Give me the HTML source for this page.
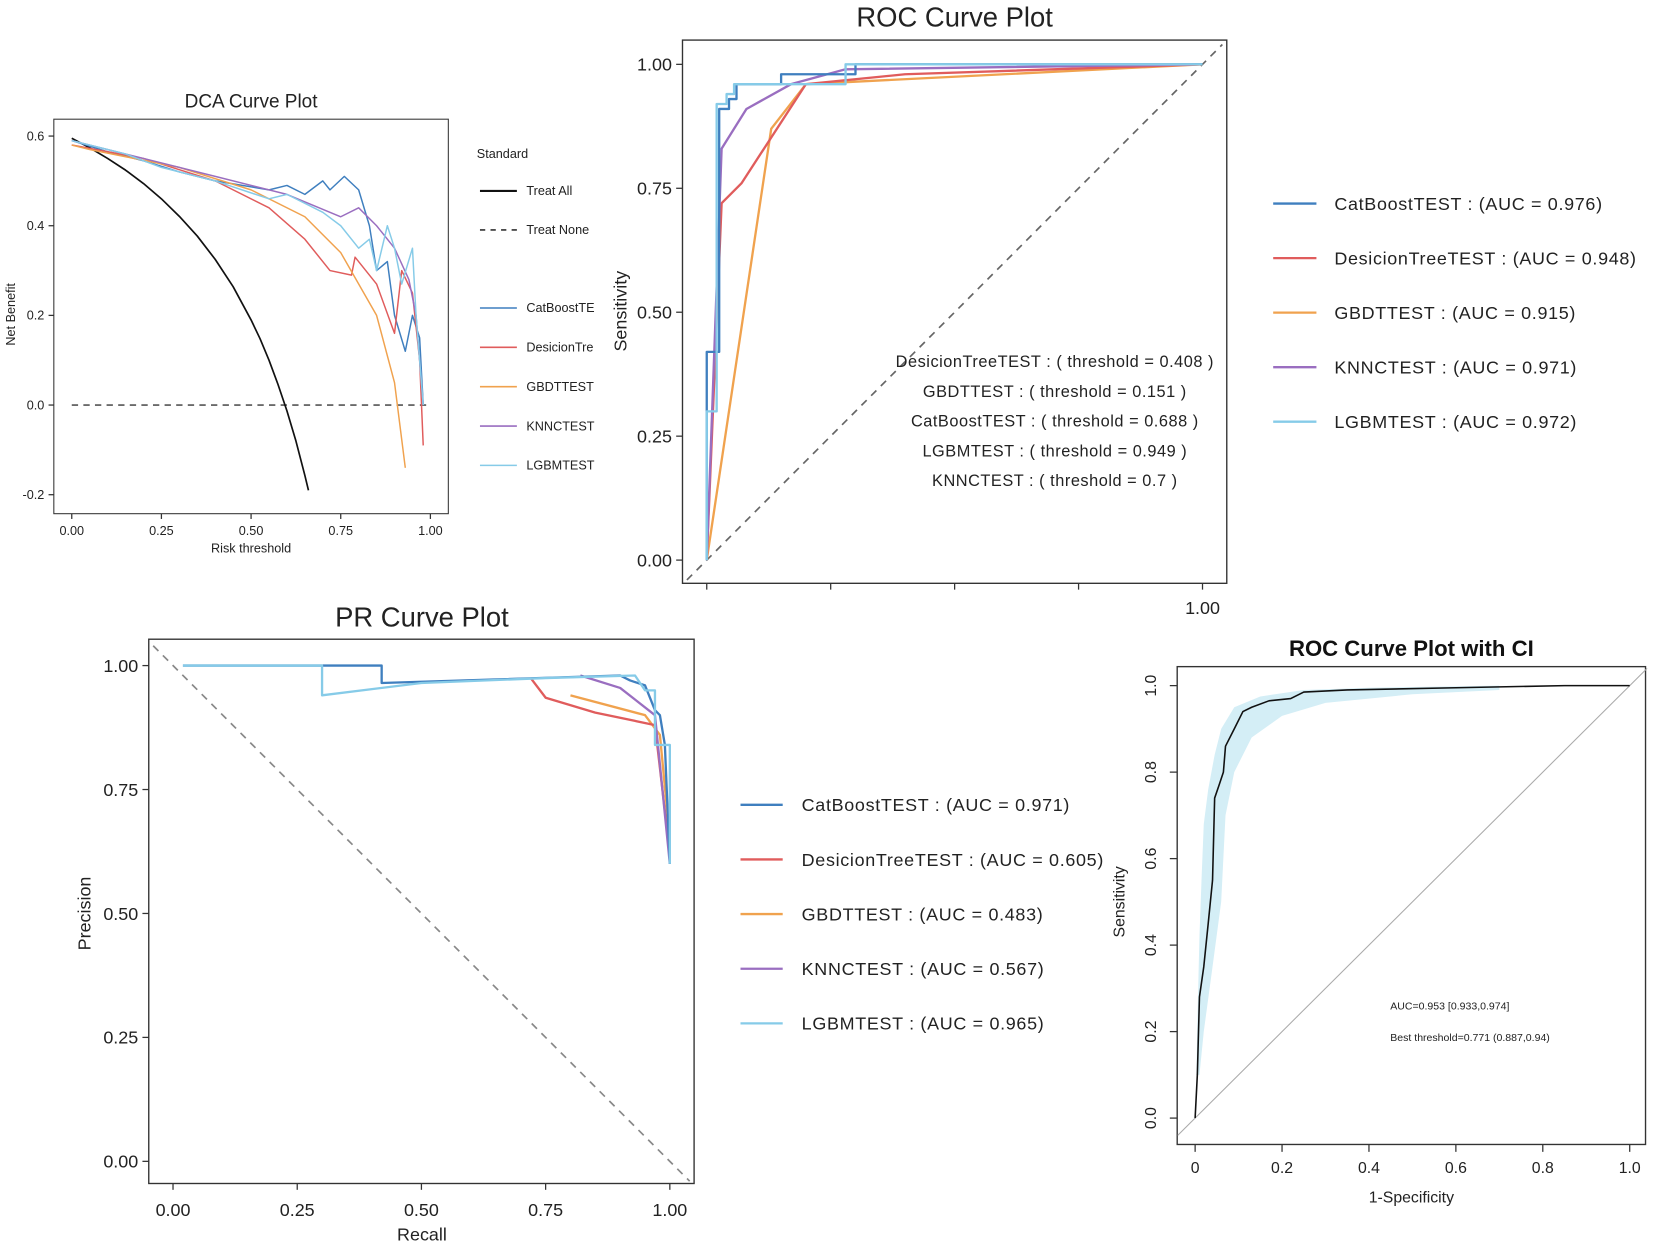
<!DOCTYPE html>
<html><head><meta charset="utf-8"><style>
html,body{margin:0;padding:0;background:#fff}
svg{display:block;font-family:"Liberation Sans",sans-serif}
</style></head><body>
<svg id="fig" width="1654" height="1251" viewBox="0 0 1568 1186" xmlns="http://www.w3.org/2000/svg"></svg>
<script>
// ---------- DATA ----------
const modelNames = ["CatBoostTEST","DesicionTreeTEST","GBDTTEST","KNNCTEST","LGBMTEST"];
const modelColors = ["#3f7fbf","#e05c5c","#f0a24e","#9a6ec0","#86cbe8"];
const rocAuc = ["0.976","0.948","0.915","0.971","0.972"];
const prAuc = ["0.971","0.605","0.483","0.567","0.965"];
const rocThresholds = ["DesicionTreeTEST : ( threshold = 0.408 )","GBDTTEST : ( threshold = 0.151 )","CatBoostTEST : ( threshold = 0.688 )","LGBMTEST : ( threshold = 0.949 )","KNNCTEST : ( threshold = 0.7 )"];
const rocCat = [[0,0],[0,0.42],[0.025,0.42],[0.025,0.91],[0.045,0.91],[0.045,0.93],[0.06,0.93],[0.06,0.96],[0.15,0.96],[0.15,0.98],[0.3,0.98],[0.3,1],[1,1]];
const rocDT = [[0,0],[0.03,0.72],[0.07,0.76],[0.2,0.96],[0.4,0.98],[1,1]];
const rocGBDT = [[0,0],[0.13,0.87],[0.2,0.96],[0.6,0.98],[1,1]];
const rocKNN = [[0,0],[0.03,0.83],[0.08,0.91],[0.17,0.96],[0.28,0.99],[1,1]];
const rocLGBM = [[0,0],[0,0.30],[0.02,0.30],[0.02,0.92],[0.04,0.92],[0.04,0.94],[0.055,0.94],[0.055,0.96],[0.28,0.96],[0.28,1],[1,1]];
const prCat = [[0.02,1],[0.42,1],[0.42,0.965],[0.9,0.98],[0.92,0.97],[0.95,0.96],[0.97,0.91],[0.98,0.9],[0.99,0.84],[1,0.6]];
const prDT = [[0.72,0.975],[0.75,0.935],[0.85,0.905],[0.97,0.88],[1,0.62]];
const prGBDT = [[0.8,0.94],[0.95,0.9],[0.98,0.86],[1,0.65]];
const prKNN = [[0.82,0.98],[0.9,0.955],[0.97,0.9],[1,0.6]];
const prLGBM = [[0.02,1],[0.3,1],[0.3,0.94],[0.5,0.965],[0.75,0.975],[0.93,0.98],[0.95,0.95],[0.97,0.95],[0.97,0.84],[1,0.84],[1,0.6]];
const dcaTreatAll = [[0,0.595],[0.05,0.574],[0.1,0.55],[0.15,0.524],[0.2,0.494],[0.25,0.46],[0.3,0.421],[0.35,0.377],[0.4,0.325],[0.45,0.264],[0.5,0.19],[0.525,0.148],[0.55,0.1],[0.575,0.046],[0.6,-0.013],[0.625,-0.08],[0.65,-0.157],[0.66,-0.19]];
const dcaCat = [[0,0.59],[0.1,0.565],[0.2,0.545],[0.3,0.52],[0.4,0.5],[0.55,0.48],[0.6,0.49],[0.65,0.47],[0.7,0.5],[0.72,0.48],[0.76,0.51],[0.8,0.48],[0.83,0.4],[0.85,0.3],[0.88,0.32],[0.9,0.2],[0.93,0.12],[0.95,0.2],[0.97,0.15],[0.98,0]];
const dcaDT = [[0,0.58],[0.2,0.55],[0.4,0.5],[0.55,0.44],[0.65,0.37],[0.72,0.3],[0.78,0.29],[0.79,0.33],[0.85,0.27],[0.9,0.16],[0.92,0.3],[0.95,0.25],[0.97,0.1],[0.98,-0.09]];
const dcaGBDT = [[0,0.58],[0.05,0.57],[0.3,0.53],[0.5,0.48],[0.65,0.42],[0.75,0.34],[0.85,0.2],[0.9,0.05],[0.93,-0.14]];
const dcaKNN = [[0,0.59],[0.2,0.55],[0.4,0.51],[0.6,0.47],[0.75,0.42],[0.8,0.44],[0.85,0.4],[0.9,0.35],[0.94,0.28],[0.96,0.2],[0.98,0]];
const dcaLGBM = [[0,0.59],[0.15,0.56],[0.25,0.53],[0.4,0.5],[0.55,0.46],[0.6,0.47],[0.7,0.43],[0.75,0.4],[0.8,0.35],[0.83,0.37],[0.85,0.3],[0.88,0.4],[0.9,0.35],[0.92,0.27],[0.95,0.35],[0.96,0.2],[0.98,0]];
const ciCurve = [[0,0],[0.005,0.1],[0.01,0.28],[0.02,0.35],[0.03,0.45],[0.04,0.55],[0.045,0.74],[0.055,0.77],[0.065,0.8],[0.07,0.86],[0.09,0.9],[0.11,0.94],[0.13,0.95],[0.17,0.965],[0.22,0.97],[0.25,0.985],[0.35,0.99],[0.6,0.995],[0.85,1],[1,1]];
const ciUpper = [[0.003,0.1],[0.005,0.22],[0.01,0.42],[0.015,0.56],[0.02,0.68],[0.03,0.76],[0.045,0.84],[0.06,0.9],[0.09,0.95],[0.15,0.975],[0.25,0.99],[0.4,0.995],[0.7,1]];
const ciLower = [[0.7,0.99],[0.5,0.98],[0.3,0.96],[0.2,0.93],[0.13,0.88],[0.09,0.8],[0.07,0.7],[0.06,0.5],[0.04,0.35],[0.02,0.2],[0.01,0.1]];
const ticks4 = ["0.00","0.25","0.50","0.75","1.00"];
const dcaYTicks = [0.6,0.4,0.2,0.0,-0.2];
const dcaYLabels = ["0.6","0.4","0.2","0.0","-0.2"];
const ciTicks = ["0","0.2","0.4","0.6","0.8","1.0"];
const ciYTicks = ["0.0","0.2","0.4","0.6","0.8","1.0"];

// ---------- HELPERS ----------
const svg = document.getElementById('fig');
const NS = "http://www.w3.org/2000/svg";
function mk(tag, attrs, parent){const e=document.createElementNS(NS,tag);for(const k in attrs)e.setAttribute(k,attrs[k]);(parent||svg).appendChild(e);return e;}
function txt(x,y,s,size,opts,name){const o=Object.assign({x:x,y:y,'font-size':size,fill:'#222'},opts||{});const t=mk('text',o);t.textContent=s;
return t;}
function scale(d0,d1,r0,r1){return v=>r0+(v-d0)/(d1-d0)*(r1-r0);}
function line(pts,sx,sy,color,w,name,dash){const d=pts.map((p,i)=>(i?'L':'M')+sx(p[0]).toFixed(1)+' '+sy(p[1]).toFixed(1)).join(' ');const p=mk('path',{d:d,fill:'none',stroke:color,'stroke-width':w,'stroke-linejoin':'round'});if(dash)p.setAttribute('stroke-dasharray',dash);
return p;}
function box(x0,y0,x1,y1,name,w){const r=mk('rect',{x:x0,y:y0,width:x1-x0,height:y1-y0,fill:'none',stroke:'#333','stroke-width':w||1.3});
}
function tick(x1,y1,x2,y2){mk('line',{x1:x1,y1:y1,x2:x2,y2:y2,stroke:'#333','stroke-width':1.2});}

// ---------- DCA ----------
{
const sx=scale(0,1,68,408), sy=scale(0,0.6,384,129);
txt(238,102,"DCA Curve Plot",18,{'text-anchor':'middle'},'dca-title');
box(51,113,425,487,'dca-plot-area',1);
ticks4.forEach((t,i)=>{const x=sx(i*0.25);tick(x,487,x,492);txt(x,507,t,12,{'text-anchor':'middle'},'dca-x-tick');});
dcaYTicks.forEach((v,i)=>{const y=sy(v);tick(46,y,51,y);txt(42,y+4,dcaYLabels[i],12,{'text-anchor':'end'},'dca-y-tick');});
txt(238,524,"Risk threshold",12,{'text-anchor':'middle'},'dca-x-title');
txt(14,298,"Net Benefit",12,{'text-anchor':'middle',transform:'rotate(-90 14 298)'},'dca-y-title');
line([[0,0],[1,0]],sx,sy,'#555',1.6,'treat-none-line','6 5');
line(dcaTreatAll,sx,sy,'#111',1.6,'treat-all-line');
[dcaCat,dcaDT,dcaGBDT,dcaKNN,dcaLGBM].forEach((s,i)=>line(s,sx,sy,modelColors[i],1.4,'dca-'+modelNames[i].toLowerCase()));
txt(452,150,"Standard",12,{},'dca-legend-title');
mk('line',{x1:455,y1:181,x2:490,y2:181,stroke:'#111','stroke-width':2});
txt(499,185,"Treat All",12,{},'legend-treat-all');
mk('line',{x1:455,y1:218,x2:490,y2:218,stroke:'#333','stroke-width':1.5,'stroke-dasharray':'5 5'});
txt(499,222,"Treat None",12,{},'legend-treat-none');
const dcaLab=["CatBoostTE","DesicionTre","GBDTTEST","KNNCTEST","LGBMTEST"];
dcaLab.forEach((n,i)=>{const y=292+i*37.3;mk('line',{x1:455,y1:y,x2:490,y2:y,stroke:modelColors[i],'stroke-width':1.5});txt(499,y+4,n,12,{},'dca-legend-entry');});
}

// ---------- ROC ----------
{
const sx=scale(0,1,670,1140), sy=scale(0,1,531,61);
txt(905,25,"ROC Curve Plot",26,{'text-anchor':'middle'},'roc-title');
box(647,38,1163,553,'roc-plot-area');
[0,0.25,0.5,0.75,1].forEach(v=>{const x=sx(v);tick(x,553,x,559);});
txt(1140,582,"1.00",17,{'text-anchor':'middle'},'roc-x-tick');
ticks4.forEach((t,i)=>{const y=sy(i*0.25);tick(641,y,647,y);txt(637,y+6,t,17,{'text-anchor':'end'},'roc-y-tick');});
txt(594,295,"Sensitivity",17,{'text-anchor':'middle',transform:'rotate(-90 594 295)'},'roc-y-title');
line([[-0.04,-0.04],[1.04,1.04]],sx,sy,'#666',1.6,'roc-diagonal','7 6');
[rocGBDT,rocDT,rocKNN,rocCat,rocLGBM].forEach((s,j)=>{const i=[2,1,3,0,4][j];line(s,sx,sy,modelColors[i],2.2,'roc-'+modelNames[i].toLowerCase());});
rocThresholds.forEach((s,i)=>txt(1000,348+i*28.2,s,15.5,{'text-anchor':'middle','letter-spacing':'0.5'},'roc-threshold-label'));
modelNames.forEach((n,i)=>{const y=193+i*51.7;mk('line',{x1:1207,y1:y,x2:1248,y2:y,stroke:modelColors[i],'stroke-width':2.2});txt(1265,y+6,n+" : (AUC = "+rocAuc[i]+")",17,{'letter-spacing':'0.65'},'roc-legend-entry');});
}

// ---------- PR ----------
{
const sx=scale(0,1,164,635), sy=scale(0,1,1101,631);
txt(400,594,"PR Curve Plot",26,{'text-anchor':'middle'},'pr-title');
box(141,606,658,1122,'pr-plot-area');
ticks4.forEach((t,i)=>{const x=sx(i*0.25);tick(x,1122,x,1128);txt(x,1153,t,17,{'text-anchor':'middle'},'pr-x-tick');});
ticks4.forEach((t,i)=>{const y=sy(i*0.25);tick(135,y,141,y);txt(131,y+6,t,17,{'text-anchor':'end'},'pr-y-tick');});
txt(400,1176,"Recall",17,{'text-anchor':'middle'},'pr-x-title');
txt(86,866,"Precision",17,{'text-anchor':'middle',transform:'rotate(-90 86 866)'},'pr-y-title');
line([[-0.04,1.04],[1.04,-0.04]],sx,sy,'#888',1.6,'pr-diagonal','7 6');
[prGBDT,prDT,prKNN,prCat,prLGBM].forEach((s,j)=>{const i=[2,1,3,0,4][j];line(s,sx,sy,modelColors[i],2.2,'pr-'+modelNames[i].toLowerCase());});
modelNames.forEach((n,i)=>{const y=763+i*51.8;mk('line',{x1:702,y1:y,x2:742,y2:y,stroke:modelColors[i],'stroke-width':2.2});txt(760,y+6,n+" : (AUC = "+prAuc[i]+")",17,{'letter-spacing':'0.65'},'pr-legend-entry');});
}

// ---------- ROC with CI ----------
{
const sx=scale(0,1,1133,1545), sy=scale(0,1,1060,650);
txt(1338,622,"ROC Curve Plot with CI",21,{'text-anchor':'middle','font-weight':'bold',fill:'#111'},'roc-ci-title');
const band=ciUpper.concat(ciLower).map((p,i)=>(i?'L':'M')+sx(p[0]).toFixed(1)+' '+sy(p[1]).toFixed(1)).join(' ')+'Z';
const b=mk('path',{d:band,fill:'#d4eef6',stroke:'none'});


box(1116,632,1560,1085,'roc-ci-plot-area',1.3);
ciTicks.forEach((t,i)=>{const x=sx(i*0.2);tick(x,1085,x,1092);txt(x,1112,t,15,{'text-anchor':'middle'},'roc-ci-x-tick');});
ciYTicks.forEach((t,i)=>{const y=sy(i*0.2);tick(1109,y,1116,y);txt(1096,y,t,15,{'text-anchor':'middle',transform:'rotate(-90 1096 '+y+')'},'roc-ci-y-tick');});
txt(1338,1140,"1-Specificity",15,{'text-anchor':'middle'},'roc-ci-x-title');
txt(1066,855,"Sensitivity",15,{'text-anchor':'middle',transform:'rotate(-90 1066 855)'},'roc-ci-y-title');
line([[-0.04,-0.04],[1.04,1.04]],sx,sy,'#aaa',1,'roc-ci-diagonal');
line(ciCurve,sx,sy,'#111',1.5,'roc-ci-curve');
txt(1318,957,"AUC=0.953 [0.933,0.974]",10,{},'roc-ci-auc-label');
txt(1318,987,"Best threshold=0.771 (0.887,0.94)",10,{},'roc-ci-threshold-label');
}
</script>
</body></html>
